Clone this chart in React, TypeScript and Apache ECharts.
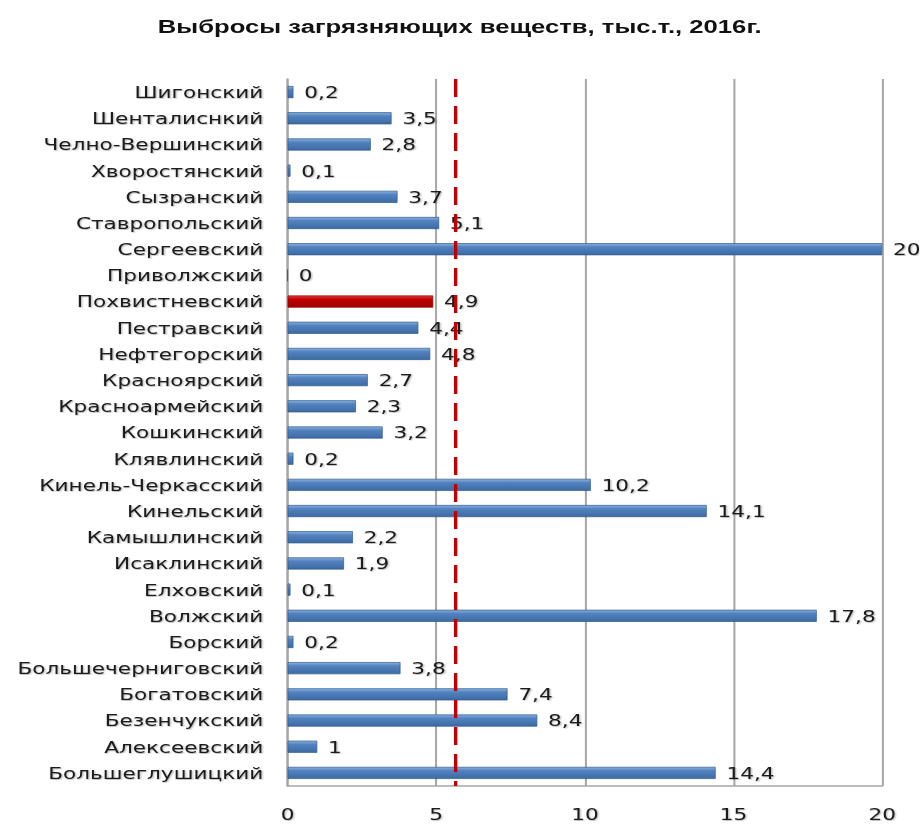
import React, { useEffect, useRef } from "react";
import * as echarts from "echarts";

const TITLE = "Выбросы загрязняющих веществ, тыс.т., 2016г.";
const districts = [
  "Шигонский",
  "Шенталиснкий",
  "Челно-Вершинский",
  "Хворостянский",
  "Сызранский",
  "Ставропольский",
  "Сергеевский",
  "Приволжский",
  "Похвистневский",
  "Пестравский",
  "Нефтегорский",
  "Красноярский",
  "Красноармейский",
  "Кошкинский",
  "Клявлинский",
  "Кинель-Черкасский",
  "Кинельский",
  "Камышлинский",
  "Исаклинский",
  "Елховский",
  "Волжский",
  "Борский",
  "Большечерниговский",
  "Богатовский",
  "Безенчукский",
  "Алексеевский",
  "Большеглушицкий",
];
const emissions = [
  0.2, 3.5, 2.8, 0.1, 3.7, 5.1, 20, 0, 4.9, 4.4, 4.8, 2.7, 2.3, 3.2, 0.2, 10.2,
  14.1, 2.2, 1.9, 0.1, 17.8, 0.2, 3.8, 7.4, 8.4, 1, 14.4,
];
const highlighted = "Похвистневский";
const thresholdValue = 5.66;
const xMin = 0;
const xMax = 20;
const xStep = 5;

const SX = 1.35; // horizontal stretch of the reference picture
const W = 920 / SX;
const H = 825;

const blueGrad = () =>
  new echarts.graphic.LinearGradient(0, 0, 0, 1, [
    { offset: 0, color: "#8db1de" },
    { offset: 0.3, color: "#5283c0" },
    { offset: 1, color: "#3d6aa2" },
  ]);
const redGrad = () =>
  new echarts.graphic.LinearGradient(0, 0, 0, 1, [
    { offset: 0, color: "#e04040" },
    { offset: 0.3, color: "#c00000" },
    { offset: 1, color: "#a00000" },
  ]);

const labelFont = {
  fontFamily: "DejaVu Sans",
  fontWeight: "normal",
  fontSize: 16,
  color: "#1a1a1a",
  textShadowColor: "rgba(0,0,0,0.35)",
  textShadowBlur: 1.5,
  textShadowOffsetX: 0.7,
  textShadowOffsetY: 0.7,
};

export default function App() {
  const ref = useRef<HTMLDivElement>(null);
  useEffect(() => {
    if (!ref.current) return;
    const chart = echarts.init(ref.current, null, { renderer: "svg" });
    const data = emissions.map((v, i) => ({
      value: v,
      itemStyle:
        districts[i] === highlighted
          ? { color: redGrad(), borderColor: "#8b0000", borderWidth: 0.6 }
          : { color: blueGrad(), borderColor: "#2e5a8f", borderWidth: 0.6 },
    }));
    chart.setOption({
      animation: false,
      backgroundColor: "#ffffff",
      title: {
        text: TITLE,
        left: "center",
        top: 12,
        textStyle: {
          fontFamily: "Liberation Sans",
          fontWeight: "bold",
          fontSize: 19,
          color: "#111111",
        },
      },
      grid: { left: 213, right: 27.5, top: 79, bottom: 39, containLabel: false },
      xAxis: {
        type: "value",
        min: xMin,
        max: xMax,
        interval: xStep,
        axisLine: { show: true, lineStyle: { color: "#a6a6a6", width: 1.5 } },
        axisTick: { show: false },
        splitLine: { show: true, lineStyle: { color: "#a6a6a6", width: 1.5 } },
        axisLabel: { margin: 20, ...labelFont },
      },
      yAxis: {
        type: "category",
        data: districts,
        inverse: true,
        axisLine: { show: true, lineStyle: { color: "#a6a6a6", width: 1.5 } },
        axisTick: { show: false },
        axisLabel: { margin: 18, ...labelFont },
      },
      series: [
        {
          type: "bar",
          data,
          barWidth: 12,
          label: {
            show: true,
            position: "right",
            distance: 8,
            ...labelFont,
            formatter: (p: any) => String(p.value).replace(".", ","),
          },
          markLine: {
            silent: true,
            symbol: "none",
            label: { show: false },
            lineStyle: { color: "#c00000", type: [18, 9], width: 2.5 },
            data: [{ xAxis: thresholdValue }],
          },
        },
      ],
    });
    return () => chart.dispose();
  }, []);
  return (
    <div
      ref={ref}
      style={{
        position: "fixed",
        left: 0,
        top: 0,
        width: W,
        height: H,
        transform: `scaleX(${SX})`,
        transformOrigin: "0 0",
      }}
    />
  );
}
